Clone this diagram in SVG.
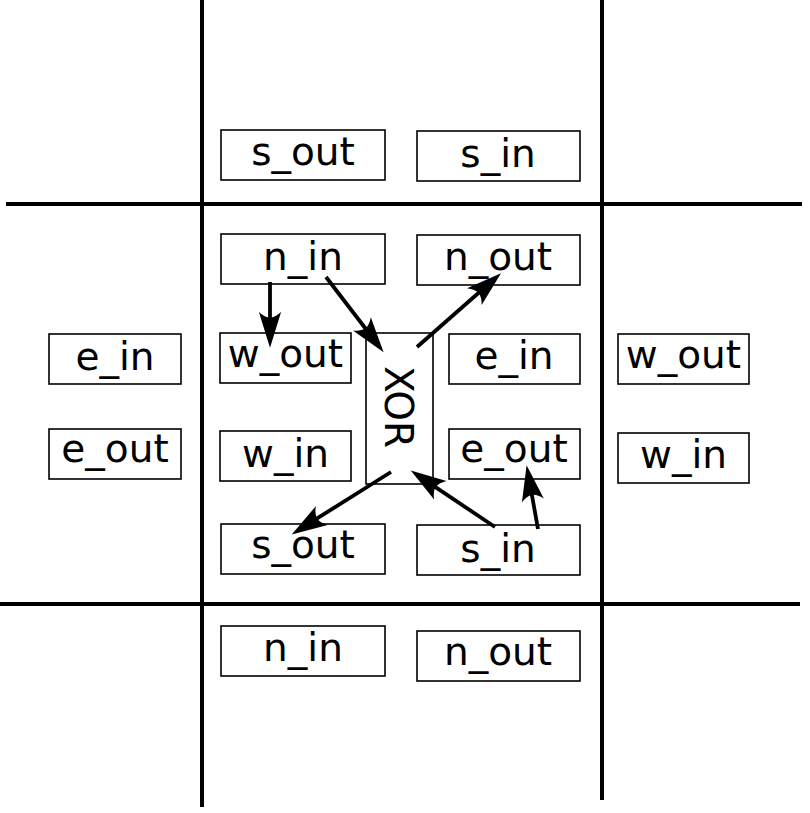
<svg xmlns="http://www.w3.org/2000/svg" width="810" height="813" viewBox="0 0 810 813">
<style>
.grid{stroke:#000;stroke-width:4;fill:none}
.box{fill:#fff;stroke:#000;stroke-width:1.6}
.lbl{font-family:"DejaVu Sans","Liberation Sans",sans-serif;font-size:39px;fill:#000;text-anchor:middle}
.conn{stroke:#000;stroke-width:3.8;fill:none;marker-end:url(#ah)}
</style>
<defs>
<marker id="ah" markerUnits="userSpaceOnUse" orient="auto" refX="0" refY="0" markerWidth="40" markerHeight="30" viewBox="-10 -12 36 24" overflow="visible">
<path d="M24,0 L-8,-10 Q-3,-4.5 -3,0 Q-3,4.5 -8,10 Z" fill="#000"/>
</marker>
</defs>
<rect width="810" height="813" fill="#fff"/>
<g id="grid">
<line class="grid" x1="202" y1="0" x2="202" y2="807"/>
<line class="grid" x1="602" y1="0" x2="602" y2="800"/>
<line class="grid" x1="6" y1="204" x2="802" y2="204"/>
<line class="grid" x1="0" y1="604" x2="800" y2="604"/>
</g>
<g id="top-s_out"><rect class="box" x="221" y="130" width="164" height="50"/><text class="lbl" x="303" y="165">s_out</text></g>
<g id="top-s_in"><rect class="box" x="417" y="131" width="163" height="50"/><text class="lbl" x="498" y="167">s_in</text></g>
<g id="n_in"><rect class="box" x="221" y="234" width="164" height="50"/><text class="lbl" x="303" y="270">n_in</text></g>
<g id="n_out"><rect class="box" x="417" y="235" width="163" height="50"/><text class="lbl" x="498" y="270">n_out</text></g>
<g id="w_out"><rect class="box" x="220" y="333" width="131" height="50"/><text class="lbl" x="285.5" y="367">w_out</text></g>
<g id="e_in"><rect class="box" x="449" y="334" width="131" height="50"/><text class="lbl" x="514" y="369">e_in</text></g>
<g id="w_in"><rect class="box" x="220" y="431" width="131" height="50"/><text class="lbl" x="285.5" y="467">w_in</text></g>
<g id="e_out"><rect class="box" x="449" y="429" width="131" height="50"/><text class="lbl" x="514" y="462">e_out</text></g>
<g id="xor"><rect class="box" x="366" y="333" width="67" height="151"/><text class="lbl" transform="translate(385,407) rotate(90)">XOR</text></g>
<g id="s_out"><rect class="box" x="221" y="524" width="164" height="50"/><text class="lbl" x="303" y="558">s_out</text></g>
<g id="s_in"><rect class="box" x="417" y="525" width="163" height="50"/><text class="lbl" x="498" y="562">s_in</text></g>
<g id="left-e_in"><rect class="box" x="49" y="334" width="132" height="50"/><text class="lbl" x="115" y="370">e_in</text></g>
<g id="left-e_out"><rect class="box" x="49" y="429" width="132" height="50"/><text class="lbl" x="115" y="462">e_out</text></g>
<g id="right-w_out"><rect class="box" x="618" y="334" width="131" height="50"/><text class="lbl" x="683.5" y="368">w_out</text></g>
<g id="right-w_in"><rect class="box" x="618" y="433" width="131" height="50"/><text class="lbl" x="683.5" y="468">w_in</text></g>
<g id="bottom-n_in"><rect class="box" x="221" y="626" width="164" height="50"/><text class="lbl" x="303" y="661">n_in</text></g>
<g id="bottom-n_out"><rect class="box" x="417" y="631" width="163" height="50"/><text class="lbl" x="498" y="665">n_out</text></g>
<g id="connectors">
<path class="conn" d="M270,282 L270,321"/>
<path class="conn" d="M326,277 L367.4,331"/>
<path class="conn" d="M417,347 L481,290.8"/>
<path class="conn" d="M391,472 L314.3,520.2"/>
<path class="conn" d="M495,527 L432.9,485.4"/>
<path class="conn" d="M538,529 L531.3,491.6"/>
</g>
</svg>
